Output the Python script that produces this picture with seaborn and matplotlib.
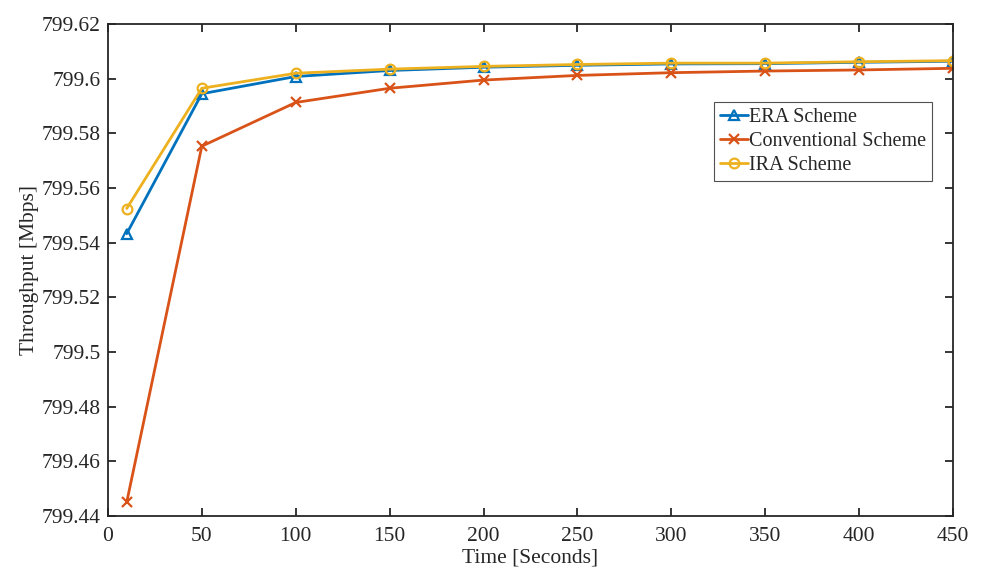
import matplotlib
matplotlib.use("Agg")
import matplotlib.pyplot as plt
import seaborn as sns
import pandas as pd
from matplotlib.ticker import FuncFormatter

time_s = [10, 50, 100, 150, 200, 250, 300, 350, 400, 450]
era = [799.5433, 799.5945, 799.6008, 799.6030, 799.6042, 799.6049, 799.6054, 799.6055, 799.6060, 799.6064]
conventional = [799.4450, 799.5753, 799.5913, 799.5965, 799.5995, 799.6012, 799.6022, 799.6028, 799.6032, 799.6038]
ira = [799.5525, 799.5965, 799.6020, 799.6035, 799.6045, 799.6052, 799.6057, 799.6057, 799.6062, 799.6066]
names = ["ERA Scheme", "Conventional Scheme", "IRA Scheme"]
colors = ["#0072BD", "#D95319", "#EDB120"]
markers = ["^", "x", "o"]

sns.set_style("ticks")
plt.rcParams["font.family"] = ["Liberation Serif", "DejaVu Serif"]

fig = plt.figure(figsize=(9.81, 5.75), dpi=100)
ax = fig.add_axes([0.110, 0.1026, 0.8615, 0.8556])

for name, vals, c, m in zip(names, [era, conventional, ira], colors, markers):
    df = pd.DataFrame({"t": time_s, "v": vals})
    sns.lineplot(data=df, x="t", y="v", ax=ax, color=c, linewidth=2,
                 marker=m, markersize=7, markerfacecolor="none",
                 markeredgecolor=c, markeredgewidth=1.6, label=name)

ax.set_xlim(0, 450)
ax.set_ylim(799.44, 799.62)
ax.set_xticks(range(0, 451, 50))
ax.set_yticks([799.44 + 0.02 * i for i in range(10)])
ax.yaxis.set_major_formatter(FuncFormatter(lambda v, p: ("%.2f" % v).rstrip("0").rstrip(".")))

for s in ax.spines.values():
    s.set_color("#262626")
    s.set_linewidth(1.3)
ax.tick_params(direction="in", length=6, width=1.3, top=True, right=True,
               labelsize=15.5, colors="#262626", pad=5)
ax.tick_params(axis="x", pad=8)

ax.set_xlabel("Time [Seconds]", fontsize=15.5, color="#262626", labelpad=2)
ax.set_ylabel("Throughput [Mbps]", fontsize=15.5, color="#262626", labelpad=2)

leg = ax.legend(loc="upper left", bbox_to_anchor=(0.717, 0.842), fontsize=14.5,
                frameon=True, fancybox=False, edgecolor="#262626",
                handlelength=1.4, handletextpad=0.05, borderpad=0.3,
                labelspacing=0.25, borderaxespad=0)
leg.get_frame().set_linewidth(0.8)

fig.savefig("out.png", dpi=100)
